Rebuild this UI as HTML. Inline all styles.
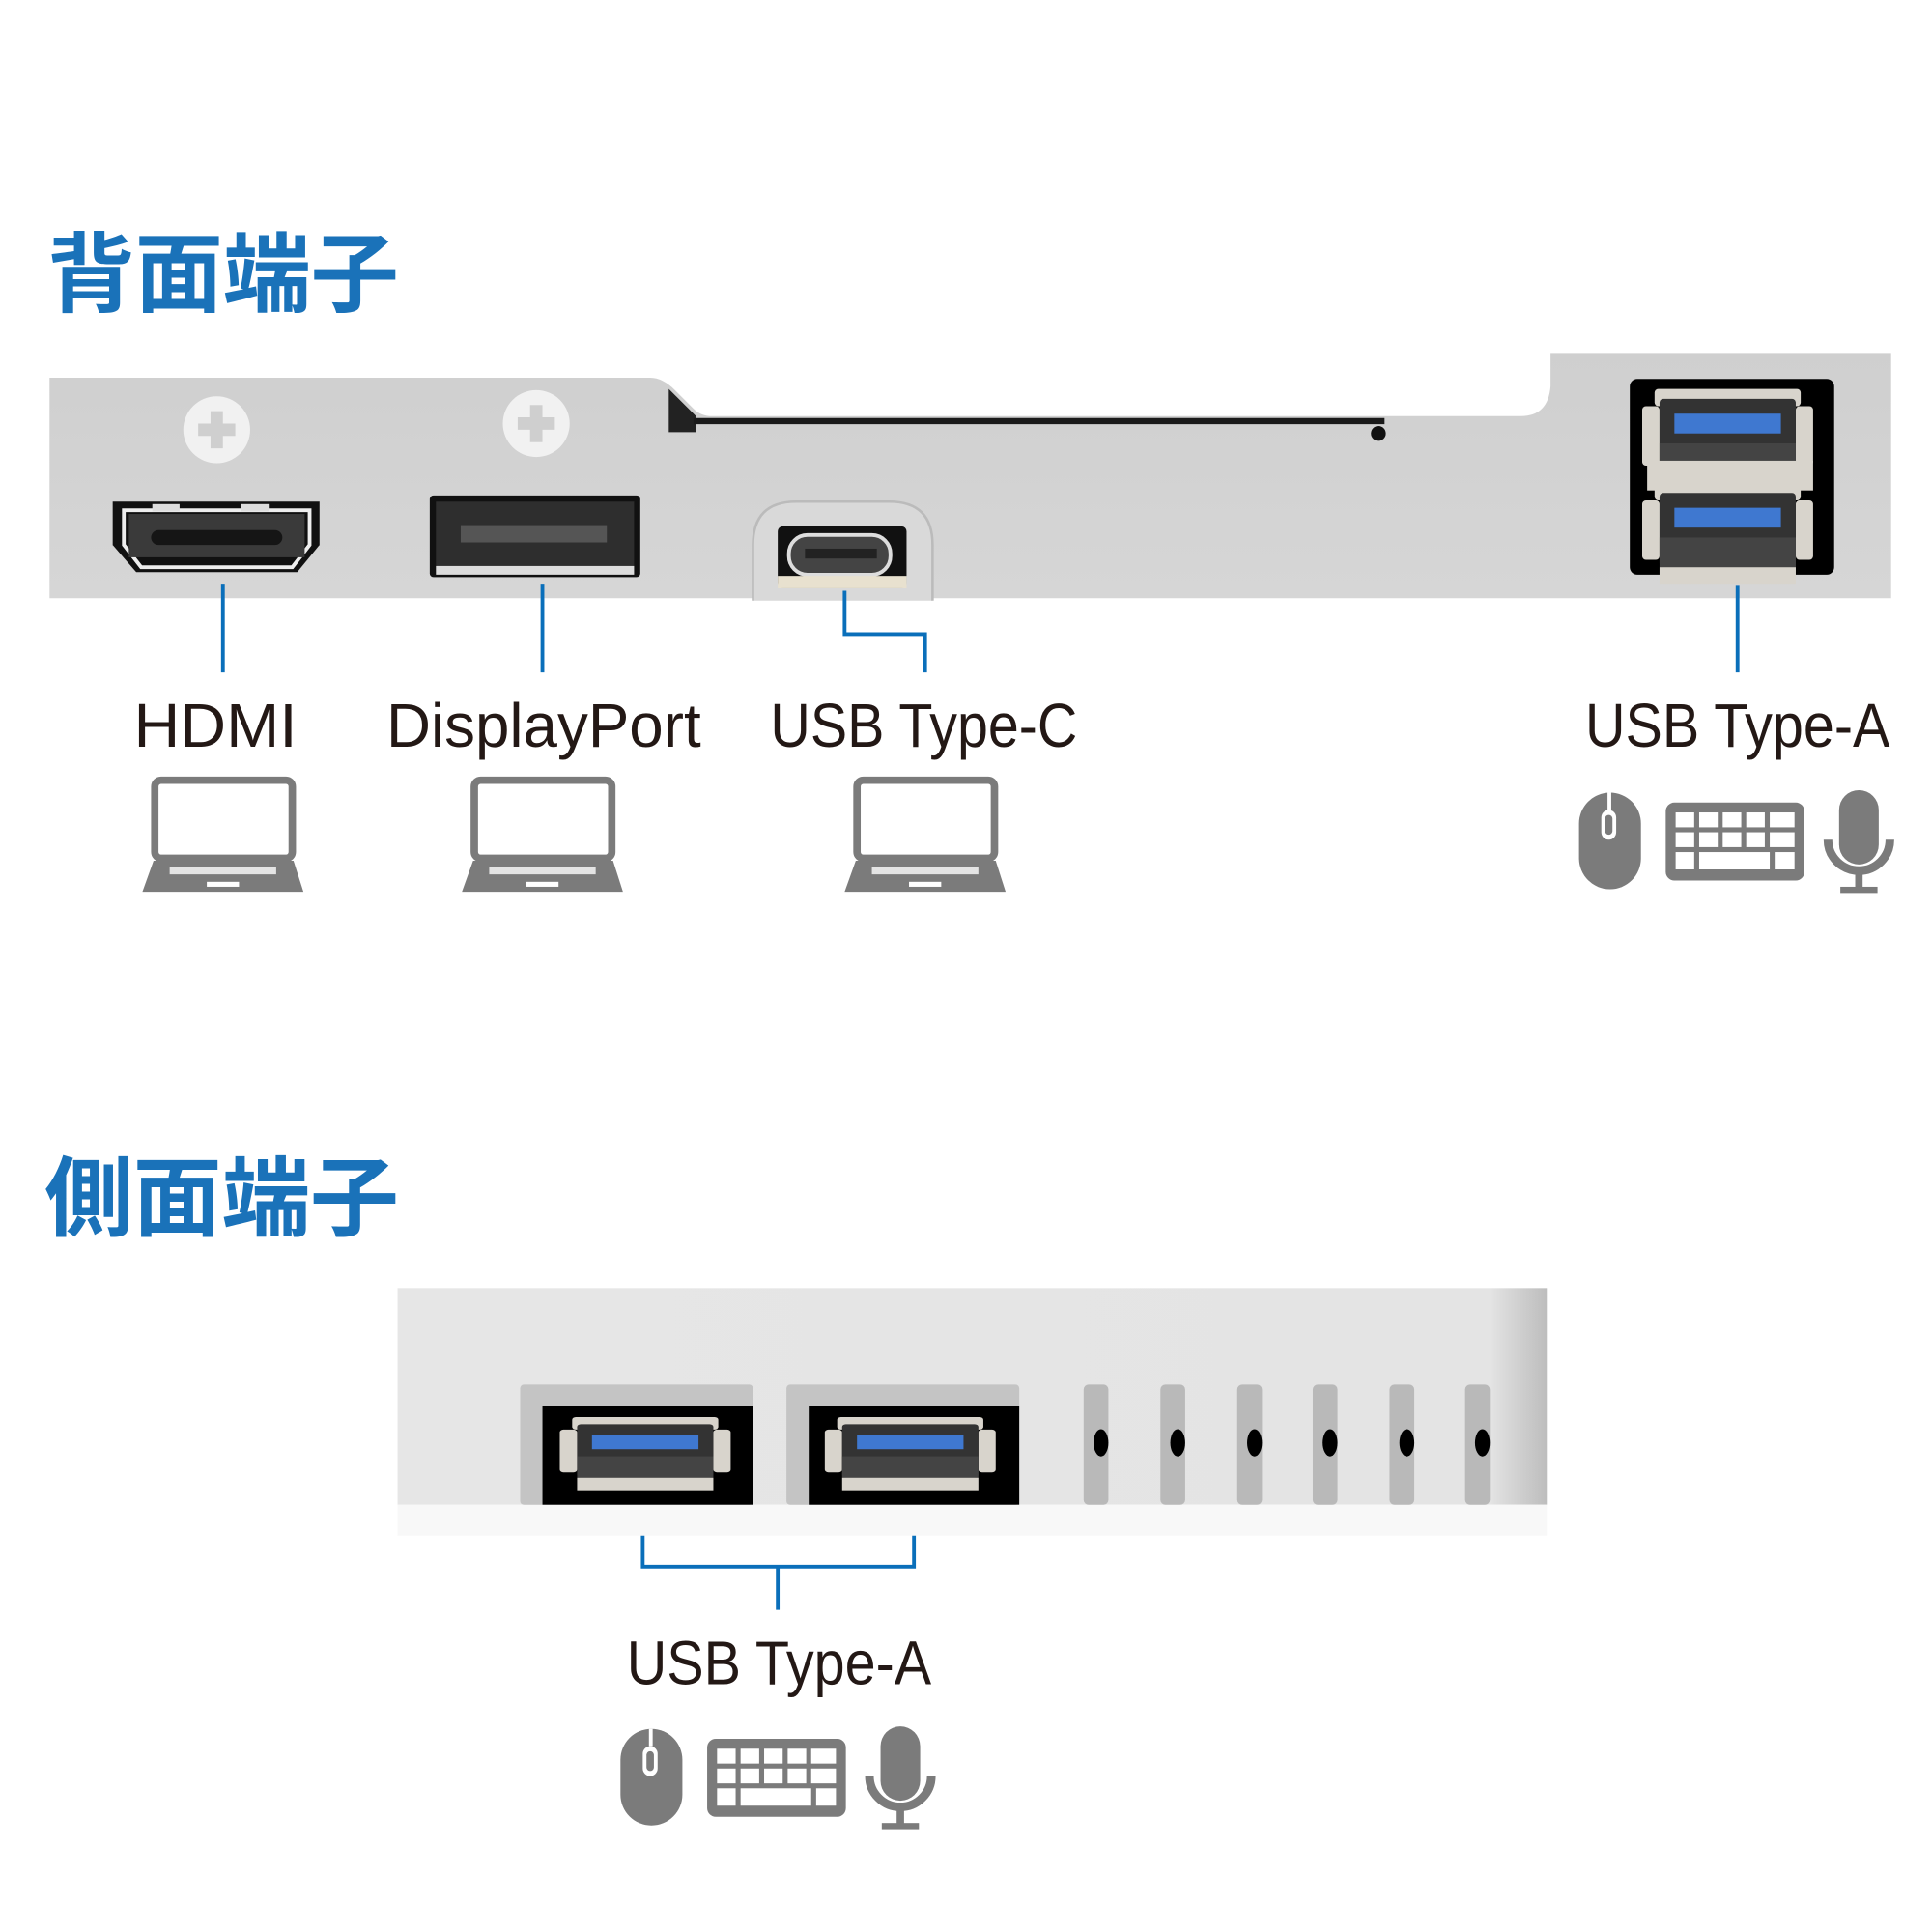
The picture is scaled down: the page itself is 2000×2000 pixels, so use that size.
<!DOCTYPE html>
<html><head><meta charset="utf-8"><style>
html,body{margin:0;padding:0;background:#fff}
svg{display:block}
.t{font-family:"Liberation Sans","Noto Sans CJK JP",sans-serif;font-weight:bold;fill:#1a72b9;font-size:70px}
.l{font-family:"Liberation Sans",sans-serif;fill:#231815;font-size:50px}
</style></head><body>
<svg width="2000" height="2000" viewBox="0 0 1560 1560" xmlns="http://www.w3.org/2000/svg">
<defs>
<linearGradient id="pg" x1="0" y1="0" x2="0" y2="1"><stop offset="0" stop-color="#cfcfcf"/><stop offset="1" stop-color="#d6d6d6"/></linearGradient>
<linearGradient id="sg" x1="0" y1="0" x2="1" y2="0"><stop offset="0" stop-color="#e6e6e6"/><stop offset="0.95" stop-color="#e4e4e4"/><stop offset="1" stop-color="#bdbdbd"/></linearGradient>
<g id="lap" fill="#7b7b7b">
<rect x="125" y="630" width="111" height="63" rx="5" fill="none" stroke="#7b7b7b" stroke-width="6"/>
<path d="M124 695 H237 L245 720 H115 Z"/>
<rect x="137" y="700" width="86" height="6" fill="#fff" opacity="0.8"/>
<rect x="167" y="712" width="26" height="4" fill="#fff"/>
</g>
<g id="usbset" fill="#7b7b7b">
<rect x="0" y="0" width="50" height="78" rx="25"/>
<rect x="18" y="14" width="12" height="24" rx="6" fill="#fff"/>
<rect x="21" y="18" width="6" height="16" rx="3" fill="#7b7b7b"/>
<rect x="23" y="0" width="3" height="14" fill="#fff"/>
<rect x="70" y="8" width="112" height="63" rx="7"/>
<g fill="#fff">
<rect x="78" y="16" width="15" height="12"/><rect x="97" y="16" width="15" height="12"/><rect x="116" y="16" width="15" height="12"/><rect x="135" y="16" width="15" height="12"/><rect x="154" y="16" width="20" height="12"/>
<rect x="78" y="32" width="15" height="12"/><rect x="97" y="32" width="15" height="12"/><rect x="116" y="32" width="15" height="12"/><rect x="135" y="32" width="15" height="12"/><rect x="154" y="32" width="20" height="12"/>
<rect x="78" y="48" width="15" height="14"/><rect x="97" y="48" width="57" height="14"/><rect x="158" y="48" width="16" height="14"/>
</g>
<rect x="210" y="-2" width="32" height="60" rx="16"/>
<path d="M201 38 a25 25 0 0 0 50 0" fill="none" stroke="#7b7b7b" stroke-width="7"/>
<rect x="223" y="62" width="6" height="16"/>
<rect x="211" y="76" width="30" height="5"/>
</g>
<g id="usbA">
<rect x="-4" y="-8" width="118" height="14" rx="3" fill="#d8d4cc"/>
<rect x="-14" y="6" width="14" height="48" rx="3" fill="#d8d4cc"/>
<rect x="110" y="6" width="14" height="48" rx="3" fill="#d8d4cc"/>
<rect x="0" y="0" width="110" height="60" rx="3" fill="#333"/>
<rect x="0" y="36" width="110" height="24" fill="#444"/>
<rect x="12" y="12" width="86" height="16" fill="#3f78d0"/>
<rect x="0" y="60" width="110" height="14" fill="#d8d4cc"/>
</g>
</defs>

<text class="t" x="38" y="246" textLength="284" lengthAdjust="spacingAndGlyphs">背面端子</text>

<path d="M40 305 H525 Q535 305 545 315 L560 330 Q566 336 575 336 H1228 Q1250 336 1252 312 V285 H1527 V483 H40 Z" fill="url(#pg)"/>
<path d="M540 314 L562 336 V349 H540 Z" fill="#222"/>
<path d="M560 340 H1118" stroke="#1a1a1a" stroke-width="5"/>
<circle cx="1113" cy="350" r="6" fill="#111"/>

<g fill="#f1f1f1"><ellipse cx="175" cy="347" rx="27" ry="27"/><ellipse cx="433" cy="342" rx="27" ry="27"/></g>
<g fill="#cfcfcf"><path d="M170 332h10v10h10v10h-10v10h-10v-10h-10v-10h10z"/><path d="M428 327h10v10h10v10h-10v10h-10v-10h-10v-10h10z"/></g>

<path d="M91 405 H258 V440 L240 462 H110 L91 440 Z" fill="#111"/>
<path d="M100 412 H250 V440 L236 458 H114 L100 440 Z" fill="none" stroke="#eee" stroke-width="3"/>
<rect x="104" y="415" width="142" height="35" fill="#3a3a3a"/>
<rect x="122" y="428" width="106" height="12" rx="6" fill="#151515"/>
<rect x="123" y="407" width="22" height="6" fill="#ddd"/><rect x="195" y="407" width="22" height="6" fill="#ddd"/>

<rect x="347" y="400" width="170" height="66" rx="3" fill="#111"/>
<rect x="352" y="405" width="160" height="52" fill="#2e2e2e"/>
<rect x="372" y="424" width="118" height="14" fill="#555"/>
<rect x="352" y="457" width="160" height="7" fill="#ddd"/>

<path d="M608 485 V440 Q608 405 643 405 H718 Q753 405 753 440 V485" fill="#d9d9d9" stroke="#bbb" stroke-width="2"/>
<rect x="628" y="425" width="104" height="50" rx="4" fill="#111"/>
<rect x="637" y="432" width="82" height="32" rx="15" fill="#444" stroke="#ddd" stroke-width="3"/>
<rect x="650" y="443" width="58" height="8" fill="#222"/>
<rect x="628" y="465" width="104" height="10" fill="#e8e1cf"/>

<rect x="1316" y="306" width="165" height="158" rx="6" fill="#000"/>
<g transform="translate(1340,322)"><use href="#usbA"/></g>
<rect x="1330" y="372" width="134" height="24" fill="#d8d4cc"/>
<g transform="translate(1340,398)"><use href="#usbA"/></g>

<g stroke="#0a6fba" stroke-width="3" fill="none">
<path d="M180 472 V543"/><path d="M438 472 V543"/>
<path d="M682 477 V512 H747 V543"/><path d="M1403 473 V543"/>
<path d="M519 1227 V1265 H738 V1227"/><path d="M628 1265 V1300"/>
</g>

<text class="l" x="108" y="603" textLength="132" lengthAdjust="spacingAndGlyphs">HDMI</text>
<text class="l" x="312" y="603" textLength="254" lengthAdjust="spacingAndGlyphs">DisplayPort</text>
<text class="l" x="622" y="603" textLength="248" lengthAdjust="spacingAndGlyphs">USB Type-C</text>
<text class="l" x="1280" y="603" textLength="246" lengthAdjust="spacingAndGlyphs">USB Type-A</text>

<use href="#lap"/>
<use href="#lap" x="258"/>
<use href="#lap" x="567"/>
<use href="#usbset" x="1275" y="640"/>

<text class="t" x="36" y="992" textLength="286" lengthAdjust="spacingAndGlyphs">側面端子</text>

<rect x="321" y="1040" width="928" height="175" fill="url(#sg)"/>
<rect x="321" y="1215" width="928" height="25" fill="#f8f8f8"/>
<rect x="420" y="1118" width="188" height="97" rx="3" fill="#c4c4c4"/>
<rect x="438" y="1135" width="170" height="80" fill="#000"/>
<rect x="635" y="1118" width="188" height="97" rx="3" fill="#c4c4c4"/>
<rect x="653" y="1135" width="170" height="80" fill="#000"/>
<g transform="translate(466,1150) scale(1.0,0.72)"><use href="#usbA"/></g>
<g transform="translate(680,1150) scale(1.0,0.72)"><use href="#usbA"/></g>
<g fill="#b9b9b9">
<rect x="875" y="1118" width="20" height="97" rx="4"/><rect x="937" y="1118" width="20" height="97" rx="4"/><rect x="999" y="1118" width="20" height="97" rx="4"/><rect x="1060" y="1118" width="20" height="97" rx="4"/><rect x="1122" y="1118" width="20" height="97" rx="4"/><rect x="1183" y="1118" width="20" height="97" rx="4"/>
</g>
<g fill="#000">
<ellipse cx="889" cy="1165" rx="6" ry="11"/><ellipse cx="951" cy="1165" rx="6" ry="11"/><ellipse cx="1013" cy="1165" rx="6" ry="11"/><ellipse cx="1074" cy="1165" rx="6" ry="11"/><ellipse cx="1136" cy="1165" rx="6" ry="11"/><ellipse cx="1197" cy="1165" rx="6" ry="11"/>
</g>

<text class="l" x="506" y="1360" textLength="246" lengthAdjust="spacingAndGlyphs">USB Type-A</text>
<use href="#usbset" x="501" y="1396"/>
</svg>
</body></html>
